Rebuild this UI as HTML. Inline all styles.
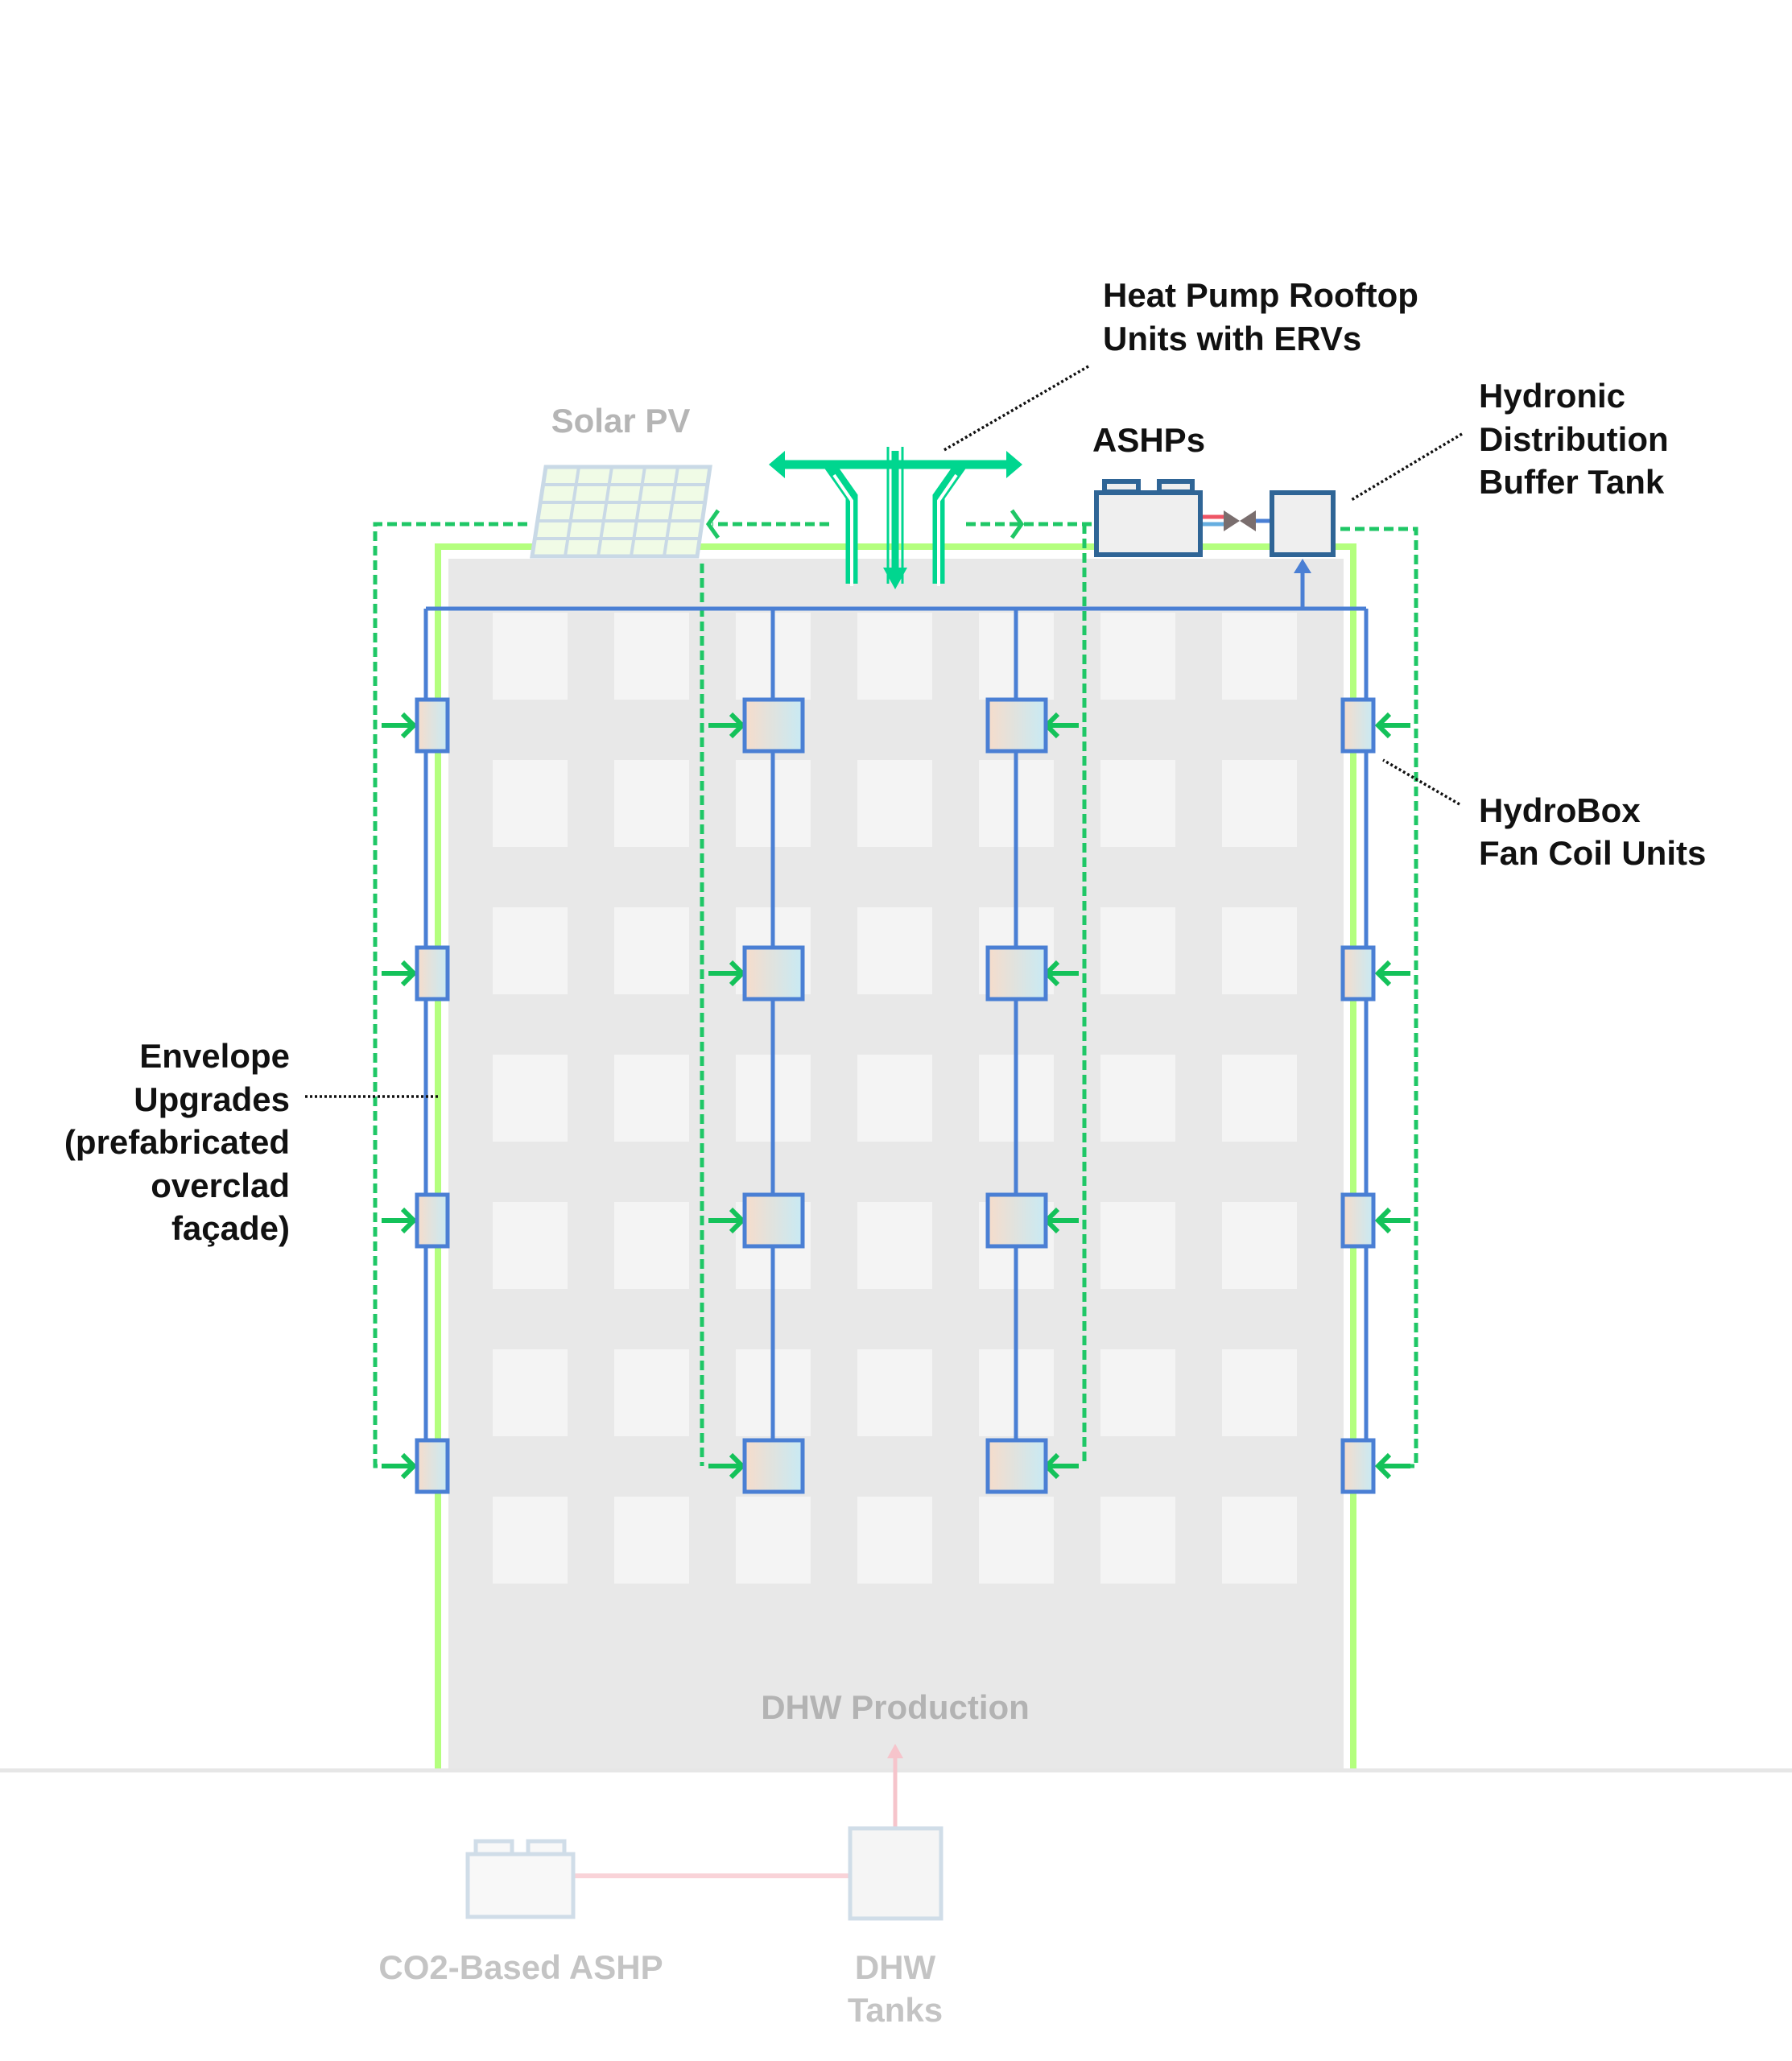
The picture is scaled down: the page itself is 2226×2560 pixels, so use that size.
<!DOCTYPE html>
<html><head><meta charset="utf-8"><style>
html,body{margin:0;padding:0;background:#fff}
svg{display:block}
text{font-family:"Liberation Sans",sans-serif;font-weight:bold;font-size:42px}
</style></head><body>
<svg width="2226" height="2560" viewBox="0 0 2226 2560" xmlns="http://www.w3.org/2000/svg">
<defs>
<linearGradient id="fc" x1="0" x2="1" y1="0" y2="0">
<stop offset="0" stop-color="#f6dccb"/><stop offset="1" stop-color="#c8eaf4"/>
</linearGradient>
<g id="fcu">
<rect x="518" y="-32" width="38" height="64"/>
<rect x="925" y="-32" width="72" height="64"/>
<rect x="1227" y="-32" width="72" height="64"/>
<rect x="1668" y="-32" width="38" height="64"/>
</g>
<g id="arow">
<line x1="474" y1="0" x2="514" y2="0"/><polyline points="500,-14 514,0 500,14"/>
<line x1="880" y1="0" x2="922" y2="0"/><polyline points="908,-14 922,0 908,14"/>
<line x1="1340" y1="0" x2="1300" y2="0"/><polyline points="1314,-14 1300,0 1314,14"/>
<line x1="1752" y1="0" x2="1712" y2="0"/><polyline points="1726,-14 1712,0 1726,14"/>
</g>
</defs>
<!-- building -->
<rect x="557" y="694" width="1112" height="1504" fill="#e8e8e8"/>
<g fill="#f4f4f4">
<g id="row">
<rect x="612" y="761" width="93" height="108"/><rect x="763" y="761" width="93" height="108"/>
<rect x="914" y="761" width="93" height="108"/><rect x="1065" y="761" width="93" height="108"/>
<rect x="1216" y="761" width="93" height="108"/><rect x="1367" y="761" width="93" height="108"/>
<rect x="1518" y="761" width="93" height="108"/>
</g>
<use href="#row" y="183"/><use href="#row" y="366"/><use href="#row" y="549"/>
<use href="#row" y="732"/><use href="#row" y="915"/><use href="#row" y="1098"/>
</g>
<polyline points="544,2198 544,679 1681,679 1681,2198" fill="none" stroke="#b4ff7e" stroke-width="8"/>
<line x1="0" y1="2199" x2="2226" y2="2199" stroke="#e6e6e6" stroke-width="5"/>

<!-- solar PV -->
<polygon points="678,580 882,580 866,691 661,691" fill="#f0fbe6" stroke="#c9d9e6" stroke-width="5"/>
<g stroke="#c9d9e6" stroke-width="4">
<line x1="675" y1="602" x2="879" y2="602"/><line x1="672" y2="624" y1="624" x2="876"/>
<line x1="669" y1="647" x2="873" y2="647"/><line x1="665" y1="669" x2="869" y2="669"/>
<line x1="719" y1="580" x2="702" y2="691"/><line x1="760" y1="580" x2="743" y2="691"/>
<line x1="801" y1="580" x2="784" y2="691"/><line x1="842" y1="580" x2="825" y2="691"/>
</g>
<text x="771" y="537" fill="#b5b5b5" text-anchor="middle">Solar PV</text>

<!-- green dashed loops -->
<g fill="none" stroke="#1fc766" stroke-width="5" stroke-dasharray="12,6">
<polyline points="655,651 466,651 466,1821 490,1821"/>
<polyline points="1030,651 885,651"/>
<line x1="872" y1="700" x2="872" y2="1821"/>
<polyline points="1200,651 1360,651"/>
<line x1="1347" y1="651" x2="1347" y2="1821"/>
<polyline points="1665,657 1759,657 1759,1821 1730,1821"/>
</g>
<g fill="none" stroke="#1fc766" stroke-width="5">
<polyline points="892,634 880,651 892,668"/>
<polyline points="1257,634 1269,651 1257,668"/>
</g>
<!-- green unit arrows -->
<g fill="none" stroke="#14c25a" stroke-width="6">
<use href="#arow" y="901"/><use href="#arow" y="1209"/><use href="#arow" y="1516"/><use href="#arow" y="1821"/>
</g>

<!-- blue distribution -->
<g stroke="#4a7fd4" stroke-width="5" fill="none">
<line x1="529" y1="756" x2="1697" y2="756"/>
<line x1="529" y1="756" x2="529" y2="1821"/>
<line x1="960" y1="756" x2="960" y2="1821"/>
<line x1="1262" y1="756" x2="1262" y2="1821"/>
<line x1="1697" y1="756" x2="1697" y2="1821"/>
<line x1="1618" y1="756" x2="1618" y2="705"/>
</g>
<polygon points="1607,712 1629,712 1618,694" fill="#4a7fd4"/>
<!-- fan coil units -->
<g fill="url(#fc)" stroke="#4a7fd4" stroke-width="5">
<use href="#fcu" y="901"/><use href="#fcu" y="1209"/><use href="#fcu" y="1516"/><use href="#fcu" y="1821"/>
</g>

<!-- ERV rooftop -->
<g fill="none" stroke="#00d68f">
<line x1="968" y1="577" x2="1258" y2="577" stroke-width="11"/>
<polyline points="1030,577 1058,617 1058,725" stroke-width="15"/>
<polyline points="1194,577 1166,617 1166,725" stroke-width="15"/>
</g>
<g fill="none" stroke="#ffffff" stroke-width="4">
<polyline points="1036,590 1058,622 1058,728"/>
<polyline points="1188,590 1166,622 1166,728"/>
</g>
<polygon points="955,577 975,560 975,594" fill="#00d68f"/>
<polygon points="1270,577 1250,560 1250,594" fill="#00d68f"/>
<g stroke="#00d68f" stroke-width="3">
<line x1="1103" y1="555" x2="1103" y2="725"/><line x1="1121" y1="555" x2="1121" y2="725"/>
</g>
<line x1="1112" y1="560" x2="1112" y2="710" stroke="#00d68f" stroke-width="9"/>
<polygon points="1097,705 1127,705 1112,732" fill="#00d68f"/>

<!-- ASHPs & buffer tank -->
<g fill="#efefef" stroke="#2f6596" stroke-width="6">
<rect x="1372" y="598" width="42" height="13"/><rect x="1440" y="598" width="41" height="13"/>
<rect x="1362" y="612" width="129" height="77"/>
<rect x="1580" y="612" width="76" height="77"/>
</g>
<line x1="1494" y1="642" x2="1520" y2="642" stroke="#ee5566" stroke-width="5"/>
<line x1="1494" y1="651" x2="1520" y2="651" stroke="#66aee0" stroke-width="5"/>
<line x1="1555" y1="647" x2="1577" y2="647" stroke="#4a7fd4" stroke-width="5"/>
<polygon points="1520,634 1540,647 1520,660" fill="#7a6e6e"/>
<polygon points="1560,634 1540,647 1560,660" fill="#7a6e6e"/>

<!-- labels -->
<g fill="#111">
<text x="1370" y="381">Heat Pump Rooftop</text>
<text x="1370" y="435">Units with ERVs</text>
<text x="1357" y="561">ASHPs</text>
<text x="1837" y="506">Hydronic</text>
<text x="1837" y="560">Distribution</text>
<text x="1837" y="613">Buffer Tank</text>
<text x="1837" y="1021">HydroBox</text>
<text x="1837" y="1074">Fan Coil Units</text>
<g text-anchor="end">
<text x="360" y="1326">Envelope</text>
<text x="360" y="1380">Upgrades</text>
<text x="360" y="1433">(prefabricated</text>
<text x="360" y="1487">overclad</text>
<text x="360" y="1540">façade)</text>
</g>
</g>
<g stroke="#111" stroke-width="3.5" stroke-dasharray="3,3" fill="none">
<line x1="1352" y1="455" x2="1171" y2="560"/>
<line x1="1816" y1="539" x2="1677" y2="622"/>
<line x1="1813" y1="999" x2="1718" y2="944"/>
<line x1="379" y1="1362" x2="544" y2="1362"/>
</g>

<!-- DHW -->
<text x="1112" y="2135" fill="#b3b3b3" text-anchor="middle">DHW Production</text>
<line x1="1112" y1="2270" x2="1112" y2="2180" stroke="#f6c4cb" stroke-width="5"/>
<polygon points="1102,2184 1122,2184 1112,2166" fill="#f6c4cb"/>
<line x1="712" y1="2330" x2="1056" y2="2330" stroke="#f9d3d8" stroke-width="6"/>
<g fill="#f8f8f8" stroke="#d0dde8" stroke-width="5">
<rect x="591" y="2287" width="45" height="16"/><rect x="656" y="2287" width="45" height="16"/>
<rect x="581" y="2303" width="131" height="78"/>
<rect x="1056" y="2271" width="113" height="112" fill="#f5f5f5"/>
</g>
<g fill="#c4c4c4" text-anchor="middle">
<text x="647" y="2458">CO2-Based ASHP</text>
<text x="1112" y="2458">DHW</text>
<text x="1112" y="2511">Tanks</text>
</g>
</svg>
</body></html>
